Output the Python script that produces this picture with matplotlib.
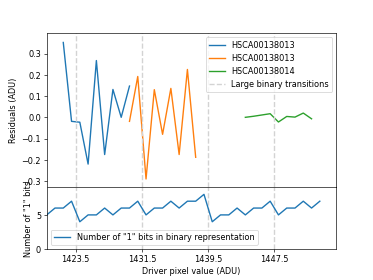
import matplotlib
matplotlib.use("Agg")
import matplotlib.pyplot as plt

# residuals per driver pixel value
x_a = [1422, 1423, 1424, 1425, 1426, 1427, 1428, 1429, 1430]
res_a = [0.352, -0.019, -0.023, -0.22, 0.267, -0.175, 0.131, 0.0, 0.147]

x_b = [1430, 1431, 1432, 1433, 1434, 1435, 1436, 1437, 1438]
res_b = [-0.019, 0.192, -0.29, 0.13, -0.08, 0.136, -0.175, 0.225, -0.188]

x_c = [1444, 1445, 1446, 1447, 1448, 1449, 1450, 1451, 1452]
res_c = [0.0, 0.005, 0.011, 0.017, -0.022, 0.004, 0.001, 0.02, -0.007]

labels = ["HSCA00138013", "HSCA00138013", "HSCA00138014"]

# number of "1" bits
x_bits = list(range(1420, 1454))
n_bits = [5, 6, 6, 7, 4, 5, 5, 6, 5, 6, 6, 7, 5, 6, 6, 7, 6, 7, 7, 8,
          4, 5, 5, 6, 5, 6, 6, 7, 5, 6, 6, 7, 6, 7]

transitions = [1423.5, 1431.5, 1439.5, 1447.5]

fig, (ax1, ax2) = plt.subplots(2, 1, sharex=True, figsize=(6.4, 4.8),
                               gridspec_kw={"height_ratios": [5, 2], "hspace": 0})

ax1.plot(x_a, res_a, lw=1.7, label=labels[0])
ax1.plot(x_b, res_b, lw=1.7, label=labels[1])
ax1.plot(x_c, res_c, lw=1.7, label=labels[2])
for i, t in enumerate(transitions):
    ax1.axvline(t, color="lightgray", linestyle="--", lw=1.7,
                label="Large binary transitions" if i == 0 else None)
    ax2.axvline(t, color="lightgray", linestyle="--", lw=1.7)
ax1.set_ylim(-0.33, 0.395)
ax1.set_ylabel("Residuals (ADU)")
ax1.legend(loc="upper right")

ax2.plot(x_bits, n_bits, lw=1.7, label='Number of "1" bits in binary representation')
ax2.set_ylim(0, 9)
ax2.set_yticks([0, 5])
ax2.set_ylabel('Number of "1" bits')
ax2.legend(loc="lower left")

ax2.set_xlim(1420, 1455)
ax2.set_xticks(transitions)
ax2.set_xlabel("Driver pixel value (ADU)")

fig.savefig("out.png", dpi=58.4)
